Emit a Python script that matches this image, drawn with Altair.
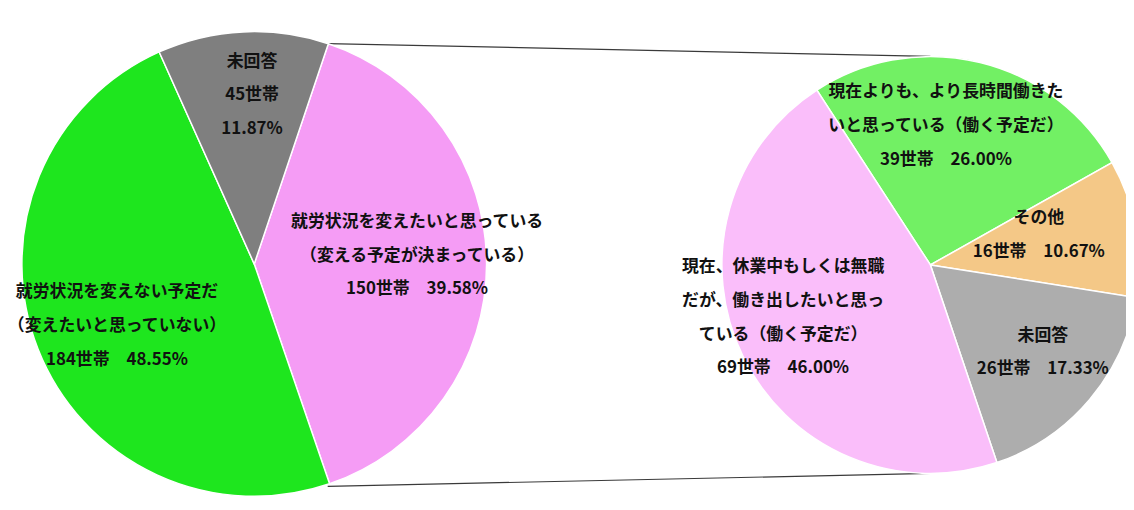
import math
import altair as alt
import pandas as pd

# ---- data (left pie: all households) ----
left_cats = [
    "就労状況を変えたいと思っている\n（変える予定が決まっている）",
    "就労状況を変えない予定だ\n（変えたいと思っていない）",
    "未回答",
]
left_counts = [150, 184, 45]
left_pcts = ["39.58%", "48.55%", "11.87%"]

# ---- data (right pie: breakdown of "変えたい") ----
right_cats = [
    "現在よりも、より長時間働きた\nいと思っている（働く予定だ）",
    "その他",
    "未回答",
    "現在、休業中もしくは無職\nだが、働き出したいと思っ\nている（働く予定だ）",
]
right_counts = [39, 16, 26, 69]
right_pcts = ["26.00%", "10.67%", "17.33%", "46.00%"]

left_colors = ["#F59CF5", "#1EE61E", "#7F7F7F"]
right_colors = ["#72F064", "#F4C887", "#ADADAD", "#FABEFA"]

FONT = "Noto Sans CJK JP"
LINE_H = 34


def make_df(cats, counts, pcts, side):
    rows = []
    for i, (c, n, p) in enumerate(zip(cats, counts, pcts)):
        sep = "\n" if (c == "未回答" and side == "L") else "　"
        rows.append({
            "cat": c,
            "value": n,
            "order": i,
            "label": f"{c}\n{n}世帯{sep}{p}",
        })
    return pd.DataFrame(rows)


ldf = make_df(left_cats, left_counts, left_pcts, "L")
rdf = make_df(right_cats, right_counts, right_pcts, "R")


def angles(chart, offset_deg):
    off = math.radians(offset_deg)
    return (
        chart.transform_window(
            cum="sum(value)", frame=[None, 0], sort=[alt.SortField("order")]
        )
        .transform_joinaggregate(total="sum(value)")
        .transform_calculate(
            t0=f"{off} + 2*PI*(datum.cum - datum.value)/datum.total",
            t1=f"{off} + 2*PI*datum.cum/datum.total",
        )
        .transform_calculate(tm="(datum.t0 + datum.t1)/2")
    )


LCX, LCY, LR = 248, 256, 234
RCX, RCY, RR = 929, 257, 210

left_base = angles(alt.Chart(ldf), 18.6)
right_base = angles(alt.Chart(rdf), -33)


def pie(base, cats, colors, cx, cy, r):
    return base.mark_arc(
        x=cx, y=cy, radius=r, stroke="white", strokeWidth=1.5
    ).encode(
        theta=alt.Theta("t0:Q", scale=None),
        theta2="t1:Q",
        color=alt.Color("cat:N", scale=alt.Scale(domain=cats, range=colors), legend=None),
    )


def label(base, df, cat, cx, cy, r, dx=0, dy=0):
    n_lines = df.loc[df.cat == cat, "label"].iloc[0].count("\n") + 1
    return base.transform_filter(alt.datum.cat == cat).mark_text(
        x=cx, y=cy, radius=r, dx=dx, dy=dy - (n_lines - 1) * LINE_H / 2,
        font=FONT, fontSize=17, fontWeight="bold", color="#111111",
        lineBreak="\n", lineHeight=LINE_H, align="center", baseline="middle",
    ).encode(
        theta=alt.Theta("tm:Q", scale=None),
        text="label:N",
    )


left_arc = pie(left_base, left_cats, left_colors, LCX, LCY, LR)
right_arc = pie(right_base, right_cats, right_colors, RCX, RCY, RR)

left_labels = [
    label(left_base, ldf, left_cats[0], LCX, LCY, 164, dy=-8),
    label(left_base, ldf, left_cats[1], LCX, LCY, 154, dx=5, dy=6),
    label(left_base, ldf, left_cats[2], LCX, LCY, 170, dx=6),
]
right_labels = [
    label(right_base, rdf, right_cats[0], RCX, RCY, 141, dx=-18, dy=-3),
    label(right_base, rdf, right_cats[1], RCX, RCY, 113, dx=-2, dy=-10),
    label(right_base, rdf, right_cats[2], RCX, RCY, 143, dx=4, dy=-4),
    label(right_base, rdf, right_cats[3], RCX, RCY, 157, dx=-7, dy=-15),
]

conn = pd.DataFrame({"k": [0]})
line_top = alt.Chart(conn).mark_rule(color="#3a3a3a", strokeWidth=1.2).encode(
    x=alt.value(322), y=alt.value(34), x2=alt.value(RCX), y2=alt.value(RCY - RR)
)
line_bot = alt.Chart(conn).mark_rule(color="#3a3a3a", strokeWidth=1.2).encode(
    x=alt.value(322), y=alt.value(480), x2=alt.value(RCX), y2=alt.value(RCY + RR)
)

chart = (
    alt.layer(line_top, line_bot, left_arc, *left_labels, right_arc, *right_labels)
    .resolve_scale(color="independent")
    .properties(width=1126, height=500, padding=0, autosize="none", background="white")
    .configure_view(stroke=None)
)

chart.save("out.html", embed_options={"renderer": "svg", "actions": False})
